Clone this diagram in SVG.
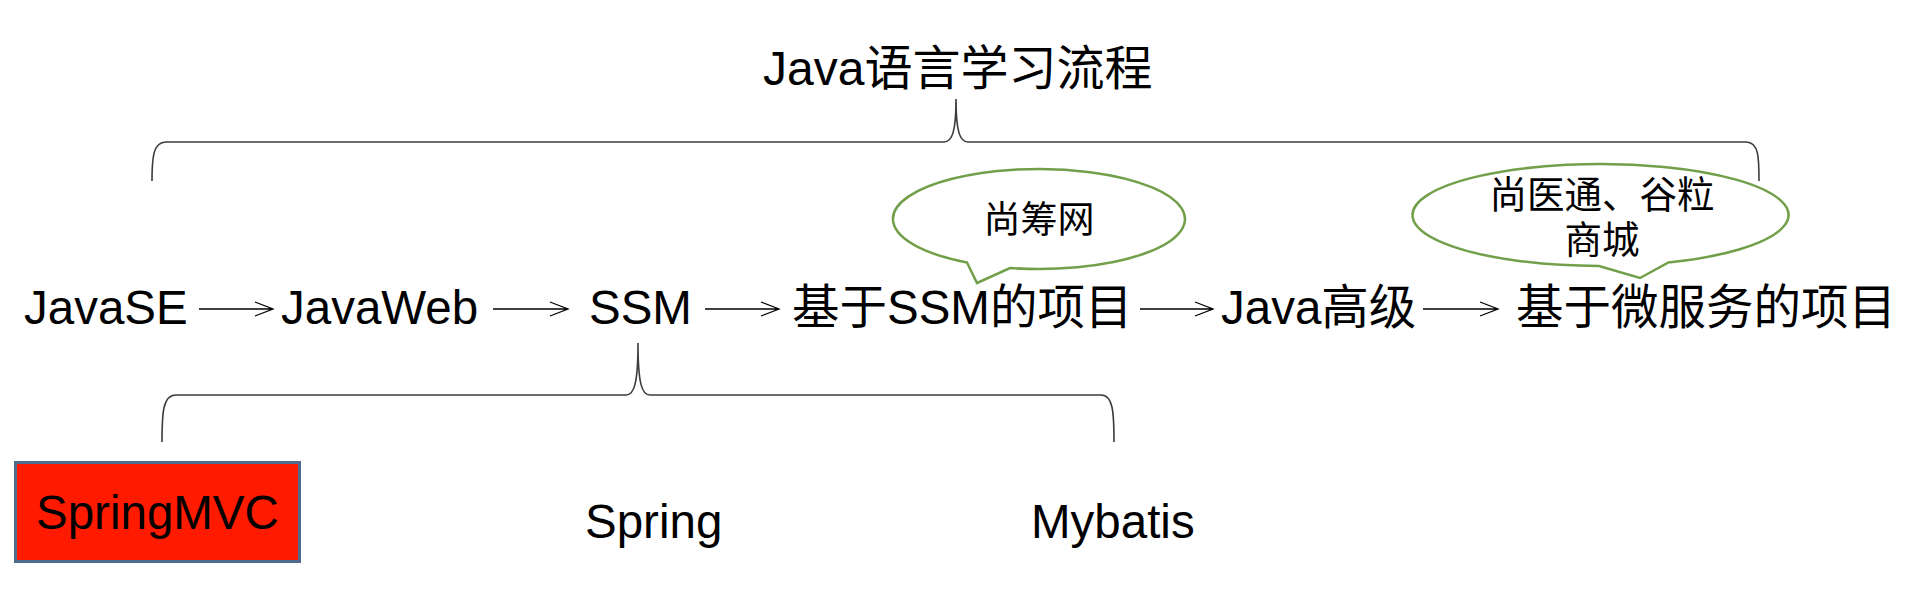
<svg xmlns="http://www.w3.org/2000/svg" width="1910" height="616" viewBox="0 0 1910 616">
<style>
.t{font-family:"Liberation Sans","Noto Sans CJK SC",sans-serif;fill:#000;}
.big{font-size:47.5px;}
.brace{fill:none;stroke:#3c3c3c;stroke-width:1.6;}
.arr{fill:none;stroke:#000;stroke-width:1.3;}
.bub{fill:#fff;stroke:#72a04a;stroke-width:2.5;stroke-linejoin:miter;}
</style>
<rect width="1910" height="616" fill="#fff"/>
<g id="title"><text class="t" x="763" y="85" font-size="48">Java语言学习流程</text></g>
<g id="connectors">
<path class="brace" d="M152,181 C152,158 153,142 166,142 L944,142 C952,142 956,132 956,99 C956,132 960,142 968,142 L1746,142 C1759,142 1759,158 1759,181"/>
<path class="brace" d="M162,442 C162,412 163,395 176,395 L626,395 C634,395 638,384 638,343 C638,384 642,395 650,395 L1101,395 C1113,395 1114,412 1114,442"/>
<g class="arr">
<path d="M199,309 H273 M255,302 L273,309 L255,316"/>
<path d="M493,309 H568 M550,302 L568,309 L550,316"/>
<path d="M705,309 H779 M761,302 L779,309 L761,316"/>
<path d="M1140,309 H1213 M1195,302 L1213,309 L1195,316"/>
<path d="M1423,309 H1498 M1480,302 L1498,309 L1480,316"/>
</g>
</g>
<g id="javase"><text class="t big" x="24" y="324">JavaSE</text></g>
<g id="javaweb"><text class="t big" x="281" y="324">JavaWeb</text></g>
<g id="ssm"><text class="t big" x="589" y="324">SSM</text></g>
<g id="ssm-project"><text class="t big" x="792" y="324">基于SSM的项目</text></g>
<g id="java-advanced"><text class="t big" x="1221" y="324">Java高级</text></g>
<g id="micro-project"><text class="t big" x="1516" y="324" font-size="48">基于微服务的项目</text></g>
<g id="bubble1">
<path class="bub" d="M1010,268 A146,50 0 1 0 967,262.5 L977,283 Z"/>
<text class="t" x="1039" y="233" font-size="37" text-anchor="middle">尚筹网</text>
</g>
<g id="bubble2">
<path class="bub" d="M1668,262.6 A188,51 0 1 0 1599,266 L1640,278 Z"/>
<text class="t" x="1602" y="208" font-size="37.5" text-anchor="middle">尚医通、谷粒</text>
<text class="t" x="1602" y="253" font-size="37.5" text-anchor="middle">商城</text>
</g>
<g id="springmvc">
<rect x="15.5" y="462.5" width="284" height="99" fill="#ff1a00" stroke="#4f6b8c" stroke-width="3"/>
<text class="t big" x="36" y="529">SpringMVC</text>
</g>
<g id="spring"><text class="t big" x="585" y="538">Spring</text></g>
<g id="mybatis"><text class="t big" x="1031" y="538">Mybatis</text></g>
</svg>
